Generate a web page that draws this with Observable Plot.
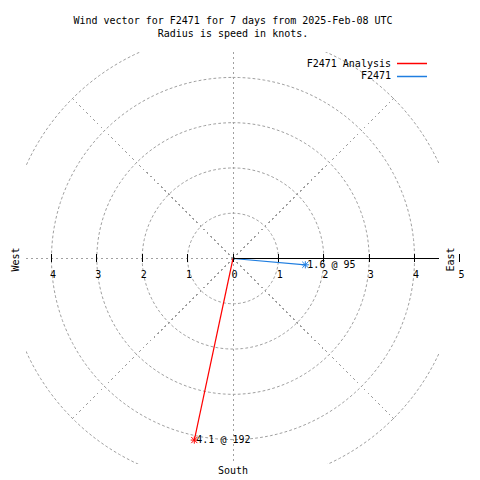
<!DOCTYPE html>
<html>
<head>
<meta charset="utf-8">
<script src="https://cdn.jsdelivr.net/npm/d3@7"></script>
<script src="https://cdn.jsdelivr.net/npm/@observablehq/plot@0.6"></script>
<style>
  body { margin: 0; background: #fff; }
  #wrap { position: relative; width: 480px; height: 480px; font-family: "DejaVu Sans Mono", monospace; }
  #legend { position: absolute; left: 0; top: 0; pointer-events: none; }
</style>
</head>
<body>
<div id="wrap"></div>
<script>
// ---- data ----
const titleLines = ["Wind vector for F2471 for 7 days from 2025-Feb-08 UTC", "Radius is speed in knots."];
const seriesNames = ["F2471 Analysis", "F2471"];
const seriesColors = ["#ff0000", "#1f7ee0"];
const speeds = [4.1, 1.6];        // knots
const directions = [192, 95];     // degrees (0 = north, clockwise)
const gridRadii = [1, 2, 3, 4, 5];
const gridAngles = [0, 45, 90, 135, 180, 225, 270, 315];
const tickValues = [-4, -3, -2, -1, 0, 1, 2, 3, 4, 5];
const compassLabels = ["West", "East", "South"];
const RMAX = 4.55;

const rad = d => d * Math.PI / 180;

const vectors = seriesNames.map((name, i) => ({
  name, color: seriesColors[i], speed: speeds[i], dir: directions[i],
  x: speeds[i] * Math.sin(rad(directions[i])),
  y: speeds[i] * Math.cos(rad(directions[i]))
}));

const circlePts = [];
for (const r of gridRadii) for (let a = 0; a <= 360; a += 2) circlePts.push({r, x: r * Math.sin(rad(a)), y: r * Math.cos(rad(a))});
const radials = gridAngles.map(a => ({a, x: 5 * Math.sin(rad(a)), y: 5 * Math.cos(rad(a))}));

const asterisk = {
  draw(context, size) {
    const r = Math.sqrt(size / Math.PI);
    const d = r * 0.85;
    context.moveTo(-r, 0); context.lineTo(r, 0);
    context.moveTo(0, -r); context.lineTo(0, r);
    context.moveTo(-d, -d); context.lineTo(d, d);
    context.moveTo(-d, d); context.lineTo(d, -d);
  }
};

const grid = "#a0a0a0";
const chart = Plot.plot({
  width: 480, height: 480,
  marginLeft: 26, marginRight: 41, marginTop: 52, marginBottom: 16,
  x: {domain: [-RMAX, RMAX], axis: null},
  y: {domain: [-RMAX, RMAX], axis: null},
  style: {fontFamily: "DejaVu Sans Mono, monospace", fontSize: "10px", background: "#fff"},
  marks: [
    Plot.line(circlePts, {x: "x", y: "y", z: "r", stroke: grid, strokeWidth: 1, strokeDasharray: "2,3", clip: true}),
    Plot.link(radials, {x1: () => 0, y1: () => 0, x2: "x", y2: "y", stroke: grid, strokeWidth: 1, strokeDasharray: "2,3", clip: true, shapeRendering: "crispEdges"}),
    Plot.link(vectors, {x1: () => 0, y1: () => 0, x2: "x", y2: "y", stroke: "color", strokeWidth: 1.2}),
    Plot.ruleY([0], {x1: 0, x2: RMAX, stroke: "black", strokeWidth: 1, shapeRendering: "crispEdges"}),
    Plot.ruleX(tickValues, {x: d => d, y1: -0.088, y2: 0.088, stroke: "black", strokeWidth: 1, shapeRendering: "crispEdges"}),
    Plot.text(tickValues, {x: d => d, y: 0, text: d => String(Math.abs(d)), dy: 16, dx: 1.5, fontSize: 10}),
    Plot.dot(vectors, {x: "x", y: "y", r: 3.6, symbol: asterisk, stroke: "color", strokeWidth: 1, fill: "none"}),
    Plot.text(vectors, {x: "x", y: "y", text: d => `${d.speed} @ ${d.dir}`, textAnchor: "start", lineAnchor: "middle", dx: 2, fontSize: 10}),
    Plot.text([titleLines[0]], {frameAnchor: "top", lineAnchor: "middle", dy: -32, fontSize: 10}),
    Plot.text([titleLines[1]], {frameAnchor: "top", lineAnchor: "middle", dy: -19, fontSize: 10}),
    Plot.text([compassLabels[0]], {frameAnchor: "left", textAnchor: "middle", lineAnchor: "middle", rotate: -90, dx: -11, dy: 1, fontSize: 10}),
    Plot.text([compassLabels[1]], {frameAnchor: "right", textAnchor: "middle", lineAnchor: "middle", rotate: -90, dx: 11, dy: 1, fontSize: 10}),
    Plot.text([compassLabels[2]], {frameAnchor: "bottom", textAnchor: "middle", lineAnchor: "middle", dy: 6, fontSize: 10})
  ]
});
const wrap = document.getElementById("wrap");
wrap.appendChild(chart);

// legend overlay
const ns = "http://www.w3.org/2000/svg";
const lg = document.createElementNS(ns, "svg");
lg.setAttribute("id", "legend");
lg.setAttribute("width", 480); lg.setAttribute("height", 100);
seriesNames.forEach((name, i) => {
  const y = 63 + i * 12.5;
  const t = document.createElementNS(ns, "text");
  t.setAttribute("x", 391); t.setAttribute("y", y);
  t.setAttribute("text-anchor", "end"); t.setAttribute("dominant-baseline", "central");
  t.setAttribute("font-family", "DejaVu Sans Mono, monospace"); t.setAttribute("font-size", "10px");
  t.textContent = name;
  lg.appendChild(t);
  const l = document.createElementNS(ns, "line");
  l.setAttribute("x1", 397); l.setAttribute("x2", 427);
  l.setAttribute("y1", Math.round(y) + 0.5); l.setAttribute("y2", Math.round(y) + 0.5);
  l.setAttribute("stroke", seriesColors[i]);
  l.setAttribute("style", `stroke:${seriesColors[i]};stroke-width:1.5px`);
  lg.appendChild(l);
});
wrap.appendChild(lg);
</script>
</body>
</html>
